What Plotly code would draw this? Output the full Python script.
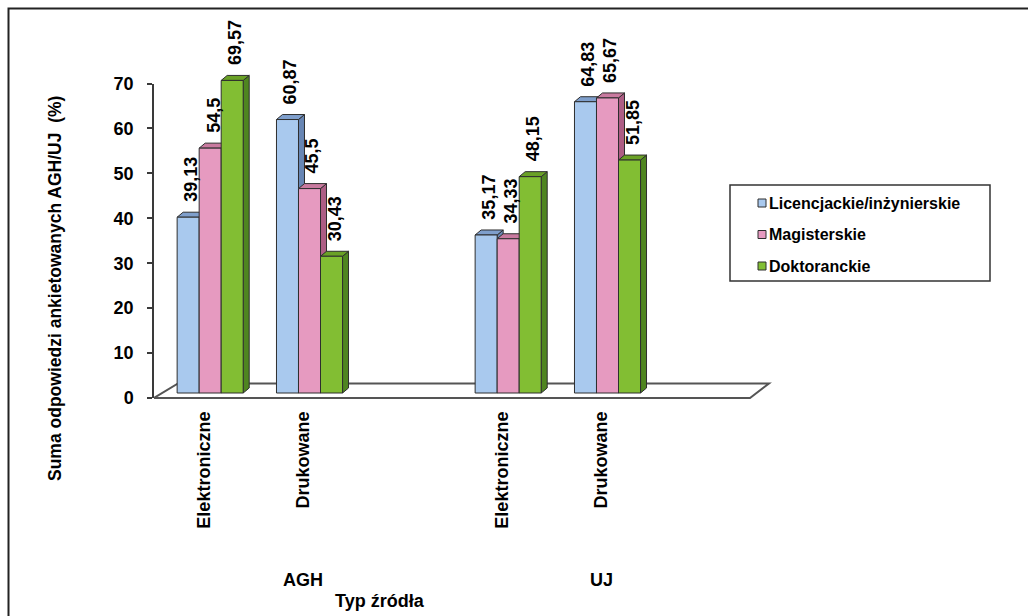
import plotly.graph_objects as go

# ---------------- data ----------------
universities = ["AGH", "UJ"]
source_types = ["Elektroniczne", "Drukowane"]
series_names = ["Licencjackie/inżynierskie", "Magisterskie", "Doktoranckie"]
licencjackie = [39.13, 60.87, 35.17, 64.83]
magisterskie = [54.5, 45.5, 34.33, 65.67]
doktoranckie = [69.57, 30.43, 48.15, 51.85]
y_ticks = [0, 10, 20, 30, 40, 50, 60, 70]
y_title = "Suma odpowiedzi ankietowanych AGH/UJ\u00a0\u00a0(%)"
x_title = "Typ źródła"

series_values = [licencjackie, magisterskie, doktoranckie]

# ---------------- styling ----------------
front_colors = ["#a9c9ee", "#e69ac0", "#82be33"]
top_colors = ["#7f9fcc", "#c97a9f", "#6aa126"]
side_colors = ["#6886b4", "#ad5d84", "#4f8520"]
EDGE = "#2e2e2e"
FONT = "Liberation Sans, Arial, sans-serif"

W, H = 1028, 616


def fx(px):
    return px / W


def fy(py):
    return 1 - py / H


# front plane of the chart (pixels)
AX_L, AX_R, AX_B, AX_T = 154, 750, 398, 83.5
EXT_R = 800                      # room on the right for the floor in perspective
ppy = (AX_B - AX_T) / y_ticks[-1]
slots_per_group = len(source_types) + 1
n_slots = len(universities) * slots_per_group
pps = (AX_R - AX_L) / n_slots
x_range = [-0.5, -0.5 + (EXT_R - AX_L) / pps]

# bars stand a little behind the front plane; 3-D depth of each bar
SHIFT_X, SHIFT_Y = 6.5, 5.0
DEPTH_X, DEPTH_Y = 6.0, 5.0
dx = DEPTH_X / pps
dy = DEPTH_Y / ppy

BARGAP = 0.335
bar_w = (1 - BARGAP) / len(series_names)

x_pos = [g * slots_per_group + t for g in range(len(universities)) for t in range(len(source_types))]
x_text = [st for _ in universities for st in source_types]

# axes of the bar plane
BAR_DOM_TOP, BAR_DOM_BOT = 15, 430
y2_range = [(AX_B - SHIFT_Y - BAR_DOM_BOT) / ppy, (AX_B - SHIFT_Y - BAR_DOM_TOP) / ppy]
x2_range = [x_range[0] - SHIFT_X / pps, x_range[1] - SHIFT_X / pps]


def plane(xv, yv, dxp=0.0, dyp=0.0):
    """front-plane point plus a pixel offset, expressed in bar-plane coordinates"""
    return xv + (dxp - SHIFT_X) / pps, yv + (dyp - SHIFT_Y) / ppy


fig = go.Figure()

for name, vals, col in zip(series_names, series_values, front_colors):
    fig.add_trace(go.Bar(
        x=x_pos, y=vals, name=name, xaxis="x2", yaxis="y2",
        marker=dict(color=col, line=dict(color=EDGE, width=1)),
        showlegend=False,
    ))

shapes = []

# floor
fl = plane(-0.5, 0)
fr = plane(n_slots - 0.5, 0)
br = plane(n_slots - 0.5, 0, 19, 14.5)
bl = plane(-0.5, 0, 24, 14.5)
shapes.append(dict(
    type="path", xref="x2", yref="y2", layer="below",
    path=f"M{fl[0]},{fl[1]} L{fr[0]},{fr[1]} L{br[0]},{br[1]} L{bl[0]},{bl[1]} Z",
    fillcolor="white", line=dict(color="#555555", width=2),
))

annotations = []

# side and top faces, value labels
for k, xp in enumerate(x_pos):
    for i, vals in enumerate(series_values):
        v = vals[k]
        xc = xp + (i - (len(series_names) - 1) / 2) * bar_w
        xl, xr = xc - bar_w / 2, xc + bar_w / 2
        shapes.append(dict(
            type="path", xref="x2", yref="y2", layer="below",
            path=f"M{xr},0 L{xr + dx},{dy} L{xr + dx},{v + dy} L{xr},{v} Z",
            fillcolor=side_colors[i], line=dict(color=EDGE, width=1),
        ))
        shapes.append(dict(
            type="path", xref="x2", yref="y2", layer="below",
            path=f"M{xl},{v} L{xr},{v} L{xr + dx},{v + dy} L{xl + dx},{v + dy} Z",
            fillcolor=top_colors[i], line=dict(color=EDGE, width=1),
        ))
        annotations.append(dict(
            xref="x2", yref="y2", x=xc + dx / 2, y=v + dy,
            text=f"{v:g}".replace(".", ","), textangle=-90,
            xanchor="center", yanchor="bottom", yshift=8, showarrow=False,
            font=dict(family=FONT, size=18, color="black", weight="bold"),
        ))

# group labels under the categories
for g, uni in enumerate(universities):
    annotations.append(dict(
        xref="x", yref="paper", x=g * slots_per_group + (slots_per_group - 1) / 2, y=fy(580),
        text=uni, showarrow=False, xanchor="center", yanchor="middle",
        font=dict(family=FONT, size=18, color="black", weight="bold"),
    ))

annotations.append(dict(
    xref="paper", yref="paper", x=fx(380), y=fy(601), text=x_title, showarrow=False,
    xanchor="center", yanchor="middle",
    font=dict(family=FONT, size=18, color="black", weight="bold"),
))
annotations.append(dict(
    xref="paper", yref="paper", x=fx(55), y=fy(289), text=y_title, showarrow=False,
    textangle=-90, xanchor="center", yanchor="middle",
    font=dict(family=FONT, size=17.5, color="black", weight="bold"),
))

# legend
LG_L, LG_R, LG_T, LG_B = 730, 990, 185, 281
shapes.append(dict(type="rect", xref="paper", yref="paper",
                   x0=fx(LG_L), x1=fx(LG_R), y0=fy(LG_B), y1=fy(LG_T),
                   fillcolor="white", line=dict(color="#333333", width=1.5)))
for i, name in enumerate(series_names):
    ry = 203 + i * 31.5
    shapes.append(dict(type="rect", xref="paper", yref="paper",
                       x0=fx(758), x1=fx(766), y0=fy(ry + 4), y1=fy(ry - 4),
                       fillcolor=front_colors[i], line=dict(color=EDGE, width=1)))
    annotations.append(dict(
        xref="paper", yref="paper", x=fx(767), y=fy(ry), text=name, showarrow=False,
        xanchor="left", yanchor="middle",
        font=dict(family=FONT, size=16, color="black", weight="bold"),
    ))

# outer frame
shapes.append(dict(type="rect", xref="paper", yref="paper",
                   x0=fx(8.5), x1=fx(1040), y0=fy(640), y1=fy(8.5),
                   line=dict(color="#222222", width=2), fillcolor="rgba(0,0,0,0)"))

fig.update_layout(
    width=W, height=H,
    margin=dict(l=0, r=0, t=0, b=0, pad=0, autoexpand=False),
    paper_bgcolor="white", plot_bgcolor="rgba(0,0,0,0)",
    barmode="group", bargap=BARGAP, bargroupgap=0,
    showlegend=False,
    shapes=shapes, annotations=annotations,
    xaxis=dict(
        domain=[fx(AX_L), fx(EXT_R)], range=x_range, anchor="y", automargin=False,
        tickvals=x_pos, ticktext=x_text, tickangle=-90, ticks="",
        showline=False, showgrid=False, zeroline=False, ticklabelstandoff=9,
        tickfont=dict(family=FONT, size=18, color="black", weight="bold"),
    ),
    yaxis=dict(
        domain=[fy(AX_B), fy(AX_T)], range=[0, y_ticks[-1]], anchor="x", automargin=False,
        tickvals=y_ticks, ticks="outside", ticklen=5, tickwidth=1.5, tickcolor="#3a3a3a",
        showline=True, linecolor="#3a3a3a", linewidth=1.5,
        showgrid=False, zeroline=False, ticklabelstandoff=10,
        tickfont=dict(family=FONT, size=18, color="black", weight="bold"),
    ),
    xaxis2=dict(domain=[fx(AX_L), fx(EXT_R)], range=x2_range, anchor="y2", visible=False),
    yaxis2=dict(domain=[fy(BAR_DOM_BOT), fy(BAR_DOM_TOP)], range=y2_range, anchor="x2", visible=False),
)

fig.write_html("out.html")
